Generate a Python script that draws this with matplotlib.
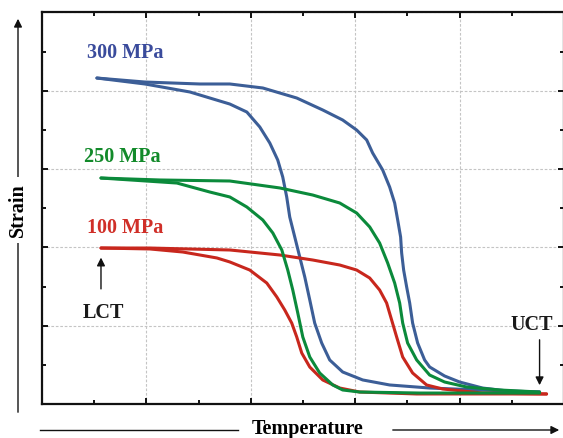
import matplotlib
matplotlib.use("Agg")
import matplotlib.pyplot as plt
from matplotlib.patches import FancyArrowPatch
from matplotlib.lines import Line2D
from matplotlib.ticker import MultipleLocator

# ---- data (axis units: temperature 0..5, strain 0..5) ----
blue_heat_x = [0.526, 0.986, 1.512, 1.799, 2.115, 2.440, 2.689, 2.880, 3.014, 3.110, 3.167, 3.263, 3.330, 3.378,
               3.407, 3.435, 3.445, 3.464, 3.493, 3.522, 3.550, 3.598, 3.665, 3.713, 3.856, 4.000, 4.220, 4.545, 4.766]
blue_heat_y = [4.163, 4.112, 4.087, 4.087, 4.036, 3.908, 3.755, 3.627, 3.499, 3.372, 3.206, 2.989, 2.771, 2.567,
               2.350, 2.133, 1.928, 1.711, 1.494, 1.290, 1.034, 0.779, 0.562, 0.473, 0.358, 0.281, 0.204, 0.153, 0.153]
blue_cool_x = [0.526, 0.986, 1.416, 1.799, 1.962, 2.086, 2.182, 2.258, 2.306, 2.344, 2.373, 2.421, 2.469, 2.517,
               2.565, 2.612, 2.679, 2.756, 2.880, 3.072, 3.330, 3.713, 4.191, 4.766]
blue_cool_y = [4.163, 4.087, 3.985, 3.831, 3.729, 3.538, 3.333, 3.116, 2.899, 2.644, 2.388, 2.133, 1.877, 1.622,
               1.328, 1.034, 0.779, 0.562, 0.409, 0.307, 0.243, 0.204, 0.179, 0.153]

green_heat_x = [0.565, 1.129, 1.799, 2.278, 2.593, 2.852, 3.014, 3.139, 3.234, 3.311, 3.378, 3.426, 3.455, 3.502,
                3.589, 3.713, 3.856, 4.067, 4.383, 4.766]
green_heat_y = [2.886, 2.861, 2.848, 2.759, 2.669, 2.567, 2.439, 2.261, 2.056, 1.801, 1.545, 1.290, 1.034, 0.779,
                0.562, 0.370, 0.281, 0.217, 0.179, 0.153]
green_cool_x = [0.565, 1.292, 1.608, 1.799, 1.962, 2.115, 2.211, 2.297, 2.354, 2.402, 2.450, 2.498, 2.565, 2.660,
                2.785, 2.880, 3.043, 3.617, 4.766]
green_cool_y = [2.886, 2.822, 2.707, 2.644, 2.516, 2.350, 2.184, 1.967, 1.711, 1.456, 1.162, 0.856, 0.600, 0.396,
                0.243, 0.179, 0.153, 0.140, 0.140]

red_heat_x = [0.565, 1.033, 1.799, 2.278, 2.593, 2.852, 3.014, 3.139, 3.234, 3.301, 3.349, 3.397, 3.455, 3.550,
              3.684, 3.837, 4.220, 4.833]
red_heat_y = [1.992, 1.992, 1.967, 1.903, 1.839, 1.775, 1.711, 1.609, 1.456, 1.290, 1.073, 0.856, 0.600, 0.396,
              0.243, 0.192, 0.140, 0.128]
red_cool_x = [0.565, 1.033, 1.349, 1.675, 1.799, 1.990, 2.153, 2.249, 2.325, 2.392, 2.440, 2.488, 2.565, 2.689,
              2.852, 3.043, 3.589, 4.833]
red_cool_y = [1.992, 1.980, 1.941, 1.865, 1.814, 1.711, 1.545, 1.367, 1.201, 1.034, 0.856, 0.651, 0.472, 0.307,
              0.204, 0.153, 0.128, 0.128]

labels = ["300 MPa", "250 MPa", "100 MPa"]
label_x = [0.794, 0.766, 0.794]
label_y = [4.483, 3.155, 2.248]

# ---- style ----
c_blue, c_green, c_red = "#3c5e97", "#0b8a3b", "#c8271d"
t_blue, t_green, t_red = "#3a4b9c", "#128a2a", "#d02f28"
serif = ["Liberation Serif", "DejaVu Serif"]
fs = 14.5

fig = plt.figure(figsize=(5.63, 4.38), dpi=100)
W, H = 563, 438
ax = fig.add_axes([42 / W, (H - 404) / H, (564 - 42) / W, (404 - 12.5) / H])
ax.set_xlim(0, 5)
ax.set_ylim(0, 5)

ax.xaxis.set_major_locator(MultipleLocator(1))
ax.xaxis.set_minor_locator(MultipleLocator(0.5))
ax.yaxis.set_major_locator(MultipleLocator(1))
ax.yaxis.set_minor_locator(MultipleLocator(0.5))
ax.tick_params(which="both", direction="in", top=True, right=True,
               labelbottom=False, labelleft=False, width=1.4, color="#111111")
ax.tick_params(which="major", length=4.6)
ax.tick_params(which="minor", length=2.8)
for s in ax.spines.values():
    s.set_linewidth(1.6)
    s.set_color("#111111")
ax.grid(which="major", color="#c4c4c4", linewidth=0.8, linestyle=(0, (2.4, 1.6)))
ax.set_axisbelow(True)

kw = dict(linewidth=2.2, solid_joinstyle="round", solid_capstyle="round")
ax.plot(blue_heat_x, blue_heat_y, color=c_blue, **kw)
ax.plot(blue_cool_x, blue_cool_y, color=c_blue, **kw)
ax.plot(red_heat_x, red_heat_y, color=c_red, **kw)
ax.plot(red_cool_x, red_cool_y, color=c_red, **kw)
ax.plot(green_heat_x, green_heat_y, color=c_green, **kw)
ax.plot(green_cool_x, green_cool_y, color=c_green, **kw)

for t, x, y, c in zip(labels, label_x, label_y, [t_blue, t_green, t_red]):
    ax.text(x, y, t, color=c, fontsize=fs, fontweight="bold", family=serif,
            ha="center", va="center")

# LCT / UCT annotations
ax.annotate("", xy=(0.565, 1.87), xytext=(0.565, 1.47),
            arrowprops=dict(arrowstyle="-|>", color="#111111", lw=1.0,
                            mutation_scale=12, shrinkA=0, shrinkB=0))
ax.text(0.584, 1.16, "LCT", fontsize=fs, fontweight="bold", family=serif,
        ha="center", va="center", color="#1a1a1a")
ax.annotate("", xy=(4.766, 0.24), xytext=(4.766, 0.82),
            arrowprops=dict(arrowstyle="-|>", color="#111111", lw=1.0,
                            mutation_scale=12, shrinkA=0, shrinkB=0))
ax.text(4.69, 1.01, "UCT", fontsize=fs, fontweight="bold", family=serif,
        ha="center", va="center", color="#1a1a1a")

# outer axis arrows with titles (figure pixel positions)
def fx(px):
    return px / W

def fy(py):
    return (H - py) / H

fig.patches.append(FancyArrowPatch(
    (fx(18), fy(415)), (fx(18), fy(16)), transform=fig.transFigure,
    arrowstyle="-|>", mutation_scale=12, color="#111111", lw=1.0))
fig.text(fx(18), fy(210), "Strain", rotation=90, fontsize=fs,
         fontweight="bold", family=serif, ha="center", va="center",
         bbox=dict(facecolor="white", edgecolor="none", pad=4))

fig.lines.append(Line2D([fx(40), fx(238)], [fy(430), fy(430)], transform=fig.transFigure,
                        color="#111111", lw=1.0))
fig.patches.append(FancyArrowPatch(
    (fx(390), fy(430)), (fx(562), fy(430)), transform=fig.transFigure,
    arrowstyle="-|>", mutation_scale=12, color="#111111", lw=1.0))
fig.text(fx(308), fy(429), "Temperature", fontsize=fs,
         fontweight="bold", family=serif, ha="center", va="center")

fig.savefig("out.png", dpi=100)
